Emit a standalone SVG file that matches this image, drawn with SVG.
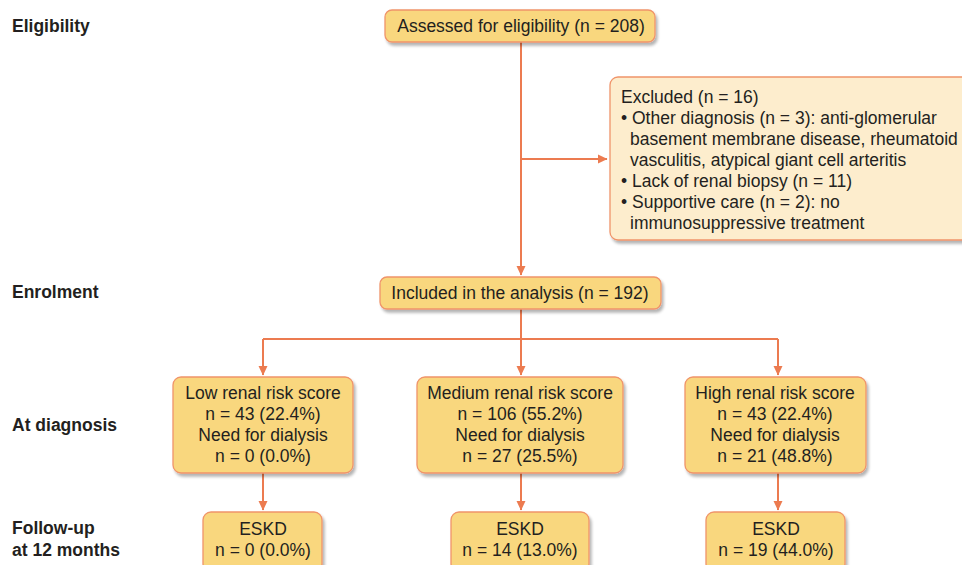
<svg xmlns="http://www.w3.org/2000/svg" width="962" height="565" viewBox="0 0 962 565">
<defs>
<style>
text{font-family:"Liberation Sans",Arial,sans-serif;font-size:17.5px;fill:#231f20}
.lbl{font-weight:bold}
.c{text-anchor:middle}
.box{fill:#f9d77e;stroke:#f0946a;stroke-width:1.3}
.exc{fill:#fdedcd;stroke:#f0946a;stroke-width:1.3}
.ln{fill:none;stroke:#ec7b50;stroke-width:2}
</style>
<filter id="sh" x="-10%" y="-10%" width="130%" height="140%">
<feGaussianBlur in="SourceAlpha" stdDeviation="1.5"/>
<feOffset dx="2" dy="2.5" result="b"/>
<feComponentTransfer><feFuncA type="linear" slope="0.3"/></feComponentTransfer>
<feMerge><feMergeNode/><feMergeNode in="SourceGraphic"/></feMerge>
</filter>
<marker id="ar" markerWidth="10" markerHeight="10" refX="9" refY="5" orient="auto" markerUnits="userSpaceOnUse">
<path d="M0,0.5 L9.5,5 L0,9.5 Z" fill="#ec7b50"/>
</marker>
</defs>
<rect width="962" height="565" fill="#fff"/>

<g id="stage-labels">
<text class="lbl" x="12" y="32">Eligibility</text>
<text class="lbl" x="12" y="298">Enrolment</text>
<text class="lbl" x="12" y="431">At diagnosis</text>
<text class="lbl" x="12" y="534">Follow-up</text>
<text class="lbl" x="12" y="556">at 12 months</text>
</g>

<g id="connectors">
<path class="ln" d="M521,42 V275" marker-end="url(#ar)"/>
<path class="ln" d="M521,159 H607" marker-end="url(#ar)"/>
<path class="ln" d="M521,309 V339"/>
<path class="ln" d="M263,339 H778"/>
<path class="ln" d="M263,339 V375" marker-end="url(#ar)"/>
<path class="ln" d="M521,339 V375" marker-end="url(#ar)"/>
<path class="ln" d="M778,339 V375" marker-end="url(#ar)"/>
<path class="ln" d="M263,473 V510" marker-end="url(#ar)"/>
<path class="ln" d="M521,473 V510" marker-end="url(#ar)"/>
<path class="ln" d="M778,473 V510" marker-end="url(#ar)"/>
</g>

<g id="assessed">
<rect class="box" filter="url(#sh)" x="385" y="10" width="270" height="32" rx="7"/>
<text class="c" x="521" y="32">Assessed for eligibility (n = 208)</text>
</g>

<g id="excluded">
<rect class="exc" filter="url(#sh)" x="610" y="77" width="370" height="163" rx="8"/>
<text x="621" y="103">Excluded (n = 16)</text>
<text x="621" y="124">• Other diagnosis (n = 3): anti-glomerular</text>
<text x="630" y="145">basement membrane disease, rheumatoid</text>
<text x="630" y="166">vasculitis, atypical giant cell arteritis</text>
<text x="621" y="187">• Lack of renal biopsy (n = 11)</text>
<text x="621" y="208">• Supportive care (n = 2): no</text>
<text x="630" y="229">immunosuppressive treatment</text>
</g>

<g id="included">
<rect class="box" filter="url(#sh)" x="380" y="277" width="281" height="32" rx="7"/>
<text class="c" x="520" y="299">Included in the analysis (n = 192)</text>
</g>

<g id="low">
<rect class="box" filter="url(#sh)" x="173" y="377" width="180" height="96" rx="8"/>
<text class="c" x="263" y="399">Low renal risk score</text>
<text class="c" x="263" y="420">n = 43 (22.4%)</text>
<text class="c" x="263" y="441">Need for dialysis</text>
<text class="c" x="263" y="462">n = 0 (0.0%)</text>
</g>

<g id="medium">
<rect class="box" filter="url(#sh)" x="417" y="377" width="206" height="96" rx="8"/>
<text class="c" x="520" y="399">Medium renal risk score</text>
<text class="c" x="520" y="420">n = 106 (55.2%)</text>
<text class="c" x="520" y="441">Need for dialysis</text>
<text class="c" x="520" y="462">n = 27 (25.5%)</text>
</g>

<g id="high">
<rect class="box" filter="url(#sh)" x="685" y="377" width="181" height="96" rx="8"/>
<text class="c" x="775" y="399">High renal risk score</text>
<text class="c" x="775" y="420">n = 43 (22.4%)</text>
<text class="c" x="775" y="441">Need for dialysis</text>
<text class="c" x="775" y="462">n = 21 (48.8%)</text>
</g>

<g id="eskd-low">
<rect class="box" filter="url(#sh)" x="203" y="512" width="119" height="60" rx="8"/>
<text class="c" x="263" y="535">ESKD</text>
<text class="c" x="263" y="556">n = 0 (0.0%)</text>
</g>

<g id="eskd-medium">
<rect class="box" filter="url(#sh)" x="451" y="512" width="138" height="60" rx="8"/>
<text class="c" x="520" y="535">ESKD</text>
<text class="c" x="520" y="556">n = 14 (13.0%)</text>
</g>

<g id="eskd-high">
<rect class="box" filter="url(#sh)" x="706" y="512" width="139" height="60" rx="8"/>
<text class="c" x="776" y="535">ESKD</text>
<text class="c" x="776" y="556">n = 19 (44.0%)</text>
</g>
</svg>
